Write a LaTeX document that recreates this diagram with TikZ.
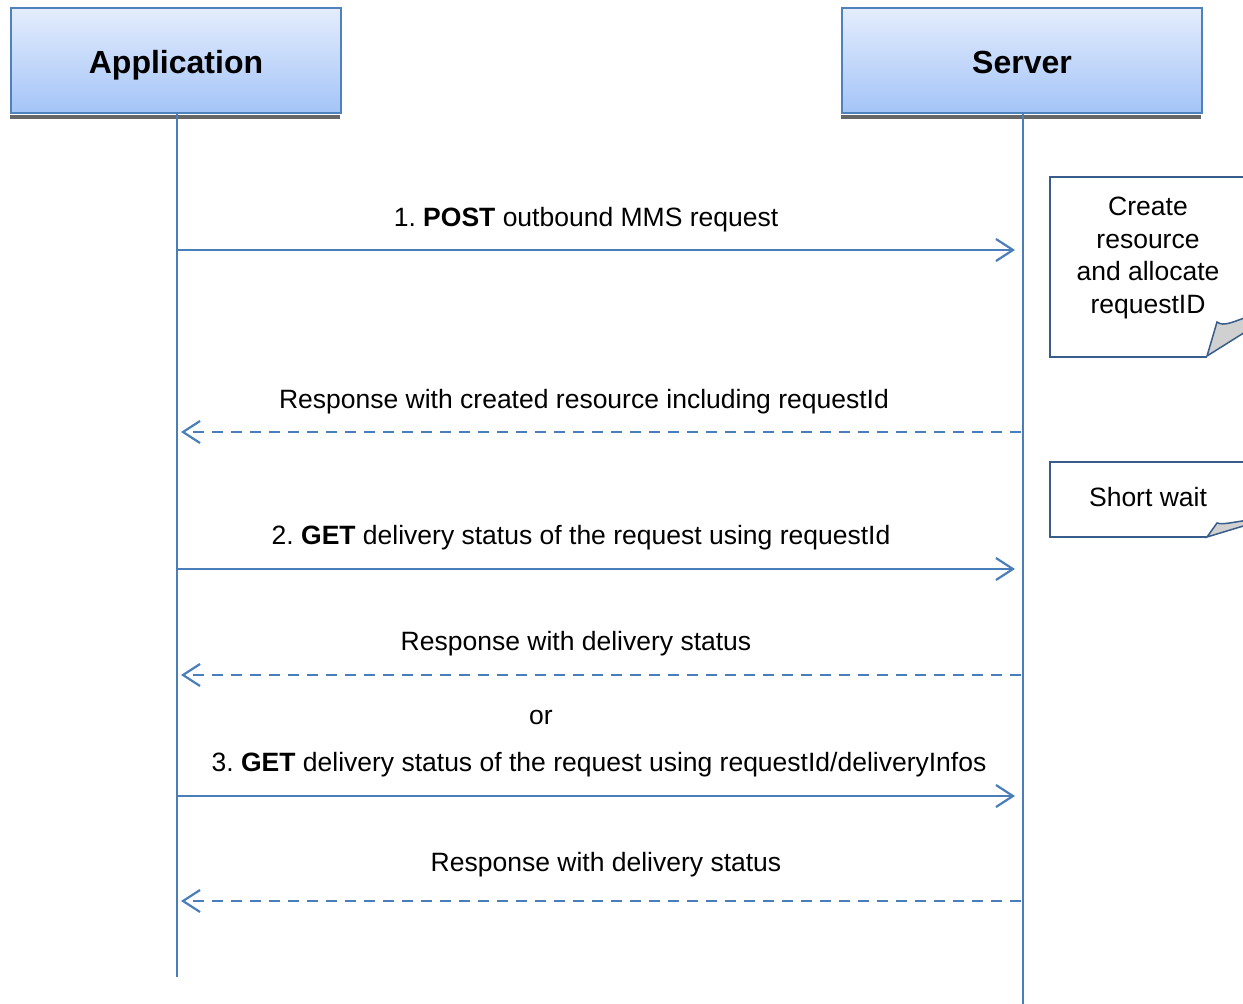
\documentclass[tikz,border=0pt]{standalone}
\usepackage{fontspec}
\setmainfont{Liberation Sans}
\usetikzlibrary{arrows.meta}
\frenchspacing
\definecolor{linjeblaa}{RGB}{74,126,187}
\definecolor{kantblaa}{RGB}{79,129,189}
\definecolor{notatblaa}{RGB}{56,93,138}
\definecolor{topblaa}{RGB}{228,237,253}
\definecolor{bundblaa}{RGB}{164,196,247}
\definecolor{foldgraa}{RGB}{208,208,208}
\tikzset{
    % Define style for the two participant boxes
    aktor/.style={
           rectangle,
           draw=kantblaa, line width=2.2pt,
           top color=topblaa, bottom color=bundblaa,
           minimum height=105pt,
           text height=25pt, text depth=0pt,
           font=\fontsize{32}{37}\bfseries\selectfont},
    % Define style for lifelines
    livslinje/.style={
           draw=linjeblaa, line width=2.2pt},
    % Define style for requests
    kald/.style={
           -{Straight Barb[length=17pt,width=22pt,line width=2.2pt]},
           draw=linjeblaa, line width=2.2pt,
           shorten >=8pt},
    % Define style for responses
    svar/.style={
           kald,
           dash pattern=on 11pt off 8pt,
           shorten <=2pt,
           shorten >=4pt},
    % Define style for message labels
    etikett/.style={
           anchor=base,
           inner sep=0pt,
           font=\fontsize{26.5}{32.5}\selectfont},
    % Define style for notes
    notat/.style={
           draw=notatblaa, line width=2pt, fill=white},
    fold/.style={
           draw=notatblaa, line width=1.5pt, fill=foldgraa}
}

\begin{document}
\begin{tikzpicture}[x=1pt,y=-1pt]
\useasboundingbox (0,0) rectangle (1243,1004);

% Participants with their shadow strip
\node[aktor, minimum width=330pt] (app) at (176,60.5) {Application};
\node[aktor, minimum width=360pt] (srv) at (1022,60.5) {Server};
\fill[black!60] ([yshift=-1pt]app.south west) rectangle ++(330,4);
\fill[black!60] ([yshift=-1pt]srv.south west) rectangle ++(360,4);

% Lifelines
\coordinate (appslut) at (177,977);
\coordinate (srvslut) at (1023,1004);
\draw[livslinje] (app.south -| appslut) -- (appslut);
\draw[livslinje] (srv.south -| srvslut) -- (srvslut);

% Points on the lifelines, one pair per message
\foreach \n/\y in {1/250,2/432,3/569,4/675,5/796,6/901} {
    \coordinate (a\n) at (177,\y);
    \coordinate (s\n) at (1023,\y);
}

% Notes on the server side
\draw[notat] (1260,177) -- (1050,177) -- (1050,357) -- (1207,357);
\filldraw[fold] (1207,356) -- (1217,322) .. controls (1224,327) and (1232,322) .. (1250,316) -- (1250,329) -- cycle;
\node[etikett, anchor=center, align=center] (lag) at (1148,258)
    {Create\\resource\\and allocate\\requestID};

\draw[notat] (1260,462) -- (1050,462) -- (1050,537) -- (1207,537);
\filldraw[fold] (1207,537) -- (1217,523) .. controls (1224,525) and (1232,522) .. (1250,520) -- (1250,524) -- cycle;
\node[etikett] (vent) at (1148,506) {Short wait};

% Messages
\draw[kald] (a1) -- (s1);
\node[etikett] (m1) at (586,226) {1. \textbf{POST} outbound MMS request};

\draw[svar] (s2) -- (a2);
\node[etikett] (m2) at (584,408) {Response with created resource including requestId};

\draw[kald] (a3) -- (s3);
\node[etikett] (m3) at (581,544) {2. \textbf{GET} delivery status of the request using requestId};

\draw[svar] (s4) -- (a4);
\node[etikett] (m4) at (576,650) {Response with delivery status};

\node[etikett] (eller) at (541,724) {or};

\draw[kald] (a5) -- (s5);
\node[etikett] (m5) at (599,771) {3. \textbf{GET} delivery status of the request using requestId/deliveryInfos};

\draw[svar] (s6) -- (a6);
\node[etikett] (m6) at (606,871) {Response with delivery status};
\end{tikzpicture}
\end{document}
